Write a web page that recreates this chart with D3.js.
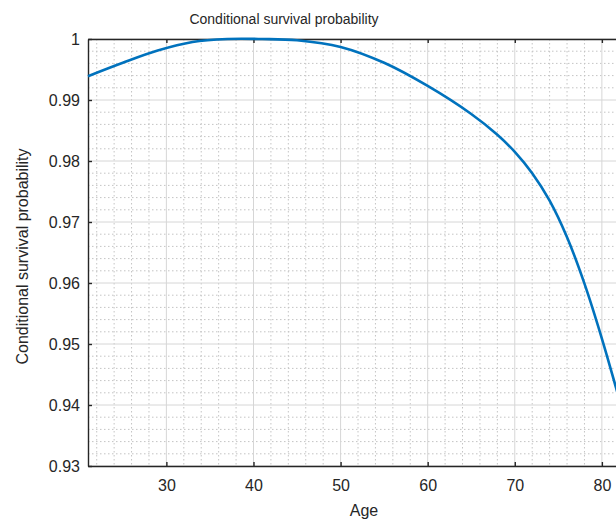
<!DOCTYPE html>
<html lang="en">
<head>
<meta charset="UTF-8">
<title>Conditional survival probability</title>
<script src="https://d3js.org/d3.v7.min.js"></script>
<style>
  body { margin: 0; background: #fff; }
  svg text { font-family: "Liberation Sans", Arial, Helvetica, sans-serif; fill: #262626; }
</style>
</head>
<body>
<svg id="svg" width="616" height="524"></svg>
<script>
// values
var ages = [21, 25, 29, 33, 37, 41, 45, 50, 55, 60, 65, 68, 70, 72, 74, 76, 78, 80, 82];
var survival = [0.9939, 0.9961, 0.9981, 0.9995, 1.0000, 1.0000, 0.9998, 0.9987, 0.9961, 0.9923,
                0.9877, 0.9843, 0.9815, 0.9780, 0.9735, 0.9675, 0.9599, 0.9509, 0.9409];
var xTicks = [30, 40, 50, 60, 70, 80];
var yTicks = [0.93, 0.94, 0.95, 0.96, 0.97, 0.98, 0.99, 1];
var xMinor = d3.range(22, 83, 2);
var yMinor = d3.range(0, 36).map(function (i) { return 0.93 + i * 0.002; });

// plot box (window.top is reserved, so use own names)
var plotLeft = 88, plotTop = 39, plotBottom = 466, plotRight = 619.3;

var svg = d3.select("#svg");

var x = d3.scaleLinear().domain([21, 82]).range([plotLeft, plotRight]);
var y = d3.scaleLinear().domain([0.93, 1]).range([plotBottom, plotTop]);

// minor grid (dotted)
var grid = svg.append("g");
grid.selectAll(".xminor")
  .data(xMinor.filter(function (d) { return d % 10 !== 0; }))
  .enter().append("line")
  .attr("x1", function (d) { return x(d); })
  .attr("x2", function (d) { return x(d); })
  .attr("y1", plotTop).attr("y2", plotBottom)
  .attr("stroke", "#c4c4c4").attr("stroke-width", 1)
  .attr("stroke-dasharray", "1.5,2.5");

grid.selectAll(".yminor")
  .data(yMinor.filter(function (d, i) { return i % 5 !== 0; }))
  .enter().append("line")
  .attr("x1", plotLeft).attr("x2", plotRight)
  .attr("y1", function (d) { return y(d); })
  .attr("y2", function (d) { return y(d); })
  .attr("stroke", "#c4c4c4").attr("stroke-width", 1)
  .attr("stroke-dasharray", "1.5,2.5");

// major grid
grid.selectAll(".xmajor")
  .data(xTicks)
  .enter().append("line")
  .attr("x1", function (d) { return x(d); })
  .attr("x2", function (d) { return x(d); })
  .attr("y1", plotTop).attr("y2", plotBottom)
  .attr("stroke", "#d6d6d6").attr("stroke-width", 1);

grid.selectAll(".ymajor")
  .data(yTicks)
  .enter().append("line")
  .attr("x1", plotLeft).attr("x2", plotRight)
  .attr("y1", function (d) { return y(d); })
  .attr("y2", function (d) { return y(d); })
  .attr("stroke", "#d6d6d6").attr("stroke-width", 1);

// axes, MATLAB style box with inward ticks (right side is cropped off)
var xAxis = d3.axisBottom(x).tickValues(xTicks).tickSizeInner(-4).tickSizeOuter(0).tickPadding(14);
var yAxis = d3.axisLeft(y).tickValues(yTicks).tickSizeInner(-4).tickSizeOuter(0).tickPadding(8)
  .tickFormat(function (d) { return d === 1 ? "1" : d3.format(".2f")(d); });
var topAxis = d3.axisTop(x).tickValues(xTicks).tickSizeInner(-4).tickSizeOuter(0).tickFormat("");

function styleAxis(g) {
  g.select(".domain").attr("stroke", "#262626").attr("stroke-width", 1.4);
  g.selectAll(".tick line").attr("stroke", "#262626").attr("stroke-width", 1.4);
  g.selectAll(".tick text").attr("font-size", 16).attr("fill", "#262626");
  g.attr("font-family", null).attr("font-size", null);
}

svg.append("g").attr("transform", "translate(0," + plotBottom + ")").call(xAxis).call(styleAxis);
svg.append("g").attr("transform", "translate(" + plotLeft + ",0)").call(yAxis).call(styleAxis);
svg.append("g").attr("transform", "translate(0," + plotTop + ")").call(topAxis).call(styleAxis);

// survival curve
var line = d3.line()
  .x(function (d, i) { return x(ages[i]); })
  .y(function (d) { return y(d); })
  .curve(d3.curveCatmullRom.alpha(0.5));

svg.append("path")
  .datum(survival)
  .attr("d", line)
  .attr("fill", "none")
  .attr("stroke", "#0072BD")
  .attr("stroke-width", 2.6);

// labels
svg.append("text")
  .attr("x", 284).attr("y", 24)
  .attr("text-anchor", "middle")
  .attr("font-size", 14)
  .attr("fill", "#000")
  .text("Conditional survival probability");

svg.append("text")
  .attr("x", 364).attr("y", 516)
  .attr("text-anchor", "middle")
  .attr("font-size", 16)
  .text("Age");

svg.append("text")
  .attr("transform", "translate(28," + ((plotTop + plotBottom) / 2 + 4) + ") rotate(-90)")
  .attr("text-anchor", "middle")
  .attr("font-size", 16)
  .text("Conditional survival probability");
</script>
</body>
</html>
